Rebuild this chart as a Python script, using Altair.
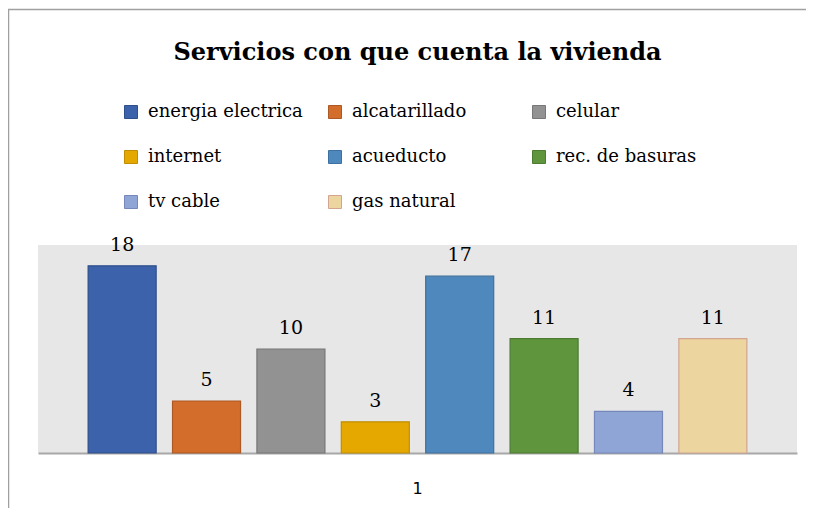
import altair as alt
import pandas as pd

series = ["energia electrica", "alcatarillado", "celular", "internet",
          "acueducto", "rec. de basuras", "tv cable", "gas natural"]
values = [18, 5, 10, 3, 17, 11, 4, 11]
group = ["1"] * 8
fills = ["#3b62aa", "#d36d2b", "#929292", "#e4a800",
         "#4e88bd", "#5f963d", "#8fa5d5", "#ecd59e"]
strokes = ["#2f4f8a", "#ae5823", "#777777", "#c08e00",
           "#3f71a0", "#4c7b31", "#7688bb", "#d2a590"]

df = pd.DataFrame({"grupo": group, "servicio": series, "valor": values})

W, H = 759, 208
SERIF = "DejaVu Serif"

x = alt.X("grupo:N",
          scale=alt.Scale(paddingInner=0, paddingOuter=0),
          axis=alt.Axis(title=None, labelAngle=0, ticks=False,
                        domainColor="#a8a8a8", domainWidth=2,
                        labelFont="DejaVu Sans", labelFontSize=16,
                        labelColor="#000000", labelPadding=27,
                        labelBaseline="top"))
xo = alt.XOffset("servicio:N", sort=series,
                 scale=alt.Scale(paddingInner=0.194, paddingOuter=0.594))
y = alt.Y("valor:Q", scale=alt.Scale(domain=[0, 20]), axis=None)

border = alt.Chart(alt.Data(values=[{"a": 1}])).mark_rect(
    fill="transparent", stroke="#a0a0a0", strokeWidth=1.5
).encode(
    x=alt.value(-29.5), x2=alt.value(3000),
    y=alt.value(-235.5), y2=alt.value(3000)
)

bars = alt.Chart(df).mark_bar(strokeWidth=1.2).encode(
    x=x, xOffset=xo, y=y,
    fill=alt.Fill("servicio:N", sort=series,
                  scale=alt.Scale(domain=series, range=fills),
                  legend=alt.Legend(orient="none", legendX=84, legendY=-142,
                                    columns=3, direction="horizontal",
                                    title=None,
                                    labelFont=SERIF,
                                    labelFontSize=18, labelColor="#000000",
                                    symbolType="square", symbolSize=169,
                                    symbolStrokeWidth=1, symbolOpacity=1,
                                    gridAlign="all", columnPadding=23,
                                    rowPadding=27, labelOffset=8,
                                    labelLimit=400)),
    stroke=alt.Stroke("servicio:N", sort=series,
                      scale=alt.Scale(domain=series, range=strokes),
                      legend=None),
)

labels = alt.Chart(df).mark_text(
    font=SERIF, fontSize=19, color="#000000",
    baseline="alphabetic", dy=-15
).encode(
    x=x, xOffset=xo, y=y, text="valor:Q"
)

chart = alt.layer(border, bars, labels).properties(
    width=W, height=H,
    background="white",
    title=alt.TitleParams("Servicios con que cuenta la vivienda",
                          font=SERIF, fontSize=24,
                          fontWeight="bold", color="#000000",
                          anchor="middle", offset=-56),
    autosize=alt.AutoSizeParams(type="none"),
    padding={"left": 30, "top": 237, "right": 9, "bottom": 55},
).configure_view(
    fill="#e7e7e7", strokeWidth=0
)

chart.save("out.html", embed_options={"renderer": "svg", "actions": False})
